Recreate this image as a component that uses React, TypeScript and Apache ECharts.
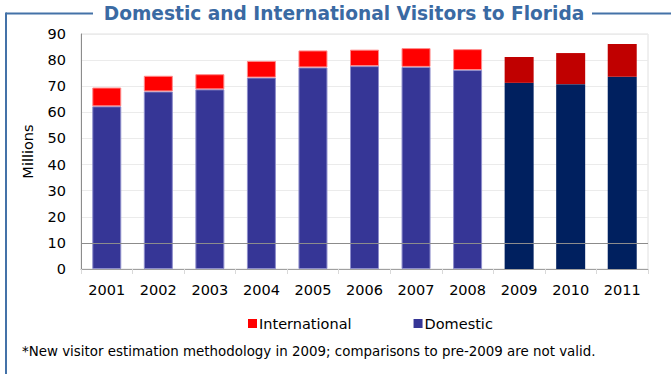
import React, { useEffect, useRef } from "react";
import * as echarts from "echarts";

const years = ["2001", "2002", "2003", "2004", "2005", "2006", "2007", "2008", "2009", "2010", "2011"];
const domestic = [62.3, 68.0, 68.8, 73.3, 77.2, 77.7, 77.4, 76.2, 71.3, 70.8, 73.6];
const international = [7.2, 6.0, 5.8, 6.4, 6.5, 6.3, 7.2, 8.0, 9.9, 11.9, 12.6];
const newMethodFrom = "2009";

const titleText = "Domestic and International Visitors to Florida";
const footnote = "*New visitor estimation methodology in 2009; comparisons to pre-2009 are not valid.";

const FONT = "'DejaVu Sans', Verdana, sans-serif";
const DOM_OLD = "#363696";
const DOM_NEW = "#00205f";
const INT_OLD = "#ff0000";
const INT_NEW = "#c00000";
const FRAME = "#4472a8";

export default function App() {
  const ref = useRef<HTMLDivElement>(null);
  useEffect(() => {
    if (!ref.current) return;
    const chart = echarts.init(ref.current, undefined, { renderer: "svg" });
    const cut = years.indexOf(newMethodFrom);
    const domData = domestic.map((v, i) =>
      i >= cut
        ? { value: v, itemStyle: { color: DOM_NEW, borderWidth: 0 } }
        : { value: v, itemStyle: { color: DOM_OLD, borderColor: "#8e8ecb", borderWidth: 1 } }
    );
    const intData = international.map((v, i) =>
      i >= cut
        ? { value: v, itemStyle: { color: INT_NEW, borderWidth: 0 } }
        : { value: v, itemStyle: { color: INT_OLD, borderColor: "#ff8a8a", borderWidth: 1 } }
    );
    chart.setOption({
      animation: false,
      textStyle: { fontFamily: FONT },
      grid: {
        left: 81,
        right: 23,
        top: 34,
        bottom: 105,
        show: true,
        borderColor: "#e0e0e0",
        borderWidth: 1,
      },
      legend: {
        data: [
          { name: "International", itemStyle: { color: INT_OLD } },
          { name: "Domestic", itemStyle: { color: DOM_OLD } },
        ],
        left: 243,
        top: 311,
        icon: "rect",
        itemWidth: 9,
        itemHeight: 9,
        itemGap: 62,
        textStyle: { fontSize: 14.5, color: "#000", fontFamily: FONT, padding: [0, 0, 0, -3] },
      },
      xAxis: {
        type: "category",
        data: years,
        axisLine: { lineStyle: { color: "#a0a0a0" } },
        axisTick: { show: true, length: 5, lineStyle: { color: "#d9d9d9" } },
        axisLabel: { fontSize: 14.5, color: "#000", margin: 13, fontFamily: FONT },
      },
      yAxis: {
        type: "value",
        min: 0,
        max: 90,
        interval: 10,
        name: "Millions",
        nameLocation: "middle",
        nameRotate: 90,
        nameGap: 46,
        nameTextStyle: { fontSize: 14.5, color: "#000", fontFamily: FONT },
        axisLine: { show: true, lineStyle: { color: "#8c8c8c" } },
        axisTick: { show: false },
        axisLabel: { fontSize: 14.5, color: "#000", margin: 15, fontFamily: FONT },
        splitLine: { lineStyle: { color: "#ebebeb" } },
      },
      series: [
        {
          name: "Domestic",
          type: "bar",
          stack: "total",
          barWidth: 29,
          data: domData,
          markLine: {
            silent: true,
            symbol: "none",
            label: { show: false },
            lineStyle: { color: "#8c8c8c", type: "solid", width: 1 },
            data: [{ yAxis: 10 }],
          },
        },
        {
          name: "International",
          type: "bar",
          stack: "total",
          barWidth: 29,
          data: intData,
        },
      ],
      graphic: [
        { type: "line", shape: { x1: 6, y1: 13.5, x2: 93, y2: 13.5 }, style: { stroke: FRAME, lineWidth: 2 } },
        { type: "line", shape: { x1: 592, y1: 13.5, x2: 671, y2: 13.5 }, style: { stroke: FRAME, lineWidth: 2 } },
        { type: "line", shape: { x1: 6, y1: 12.5, x2: 6, y2: 374 }, style: { stroke: FRAME, lineWidth: 2 } },
        {
          type: "text",
          x: 344,
          y: 13.5,
          style: {
            text: titleText,
            fill: "#3a6aa3",
            font: `bold 18.6px ${FONT}`,
            textAlign: "center",
            textVerticalAlign: "middle",
          },
        },
        {
          type: "text",
          x: 22,
          y: 351,
          style: {
            text: footnote,
            fill: "#000",
            font: `13.4px ${FONT}`,
            textAlign: "left",
            textVerticalAlign: "middle",
          },
        },
      ],
    });
    return () => chart.dispose();
  }, []);
  return (
    <div
      ref={ref}
      style={{ position: "fixed", left: 0, top: 0, width: 671, height: 374, background: "#fff" }}
    />
  );
}
